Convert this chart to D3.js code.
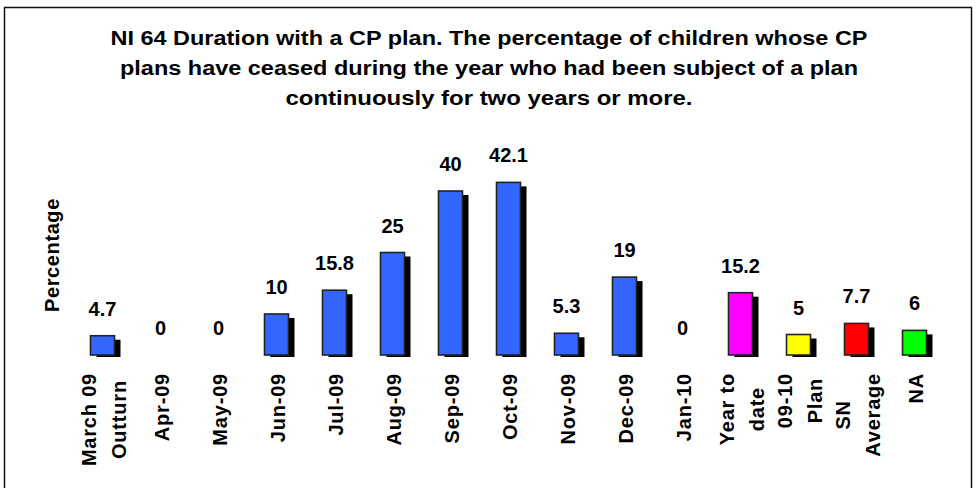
<!DOCTYPE html>
<html>
<head>
<meta charset="utf-8">
<script src="https://cdn.jsdelivr.net/npm/d3@7"></script>
<style>
  html, body { margin: 0; padding: 0; background: #fff; }
  svg { display: block; }
  text { font-family: "Liberation Sans", Arial, sans-serif; font-weight: bold; fill: #000; }
</style>
</head>
<body>
<svg id="chart" width="977" height="488"></svg>
<script>
// ---- data ----
const categories = ["March 09|Outturn", "Apr-09", "May-09", "Jun-09", "Jul-09", "Aug-09", "Sep-09",
  "Oct-09", "Nov-09", "Dec-09", "Jan-10", "Year to|date", "09-10|Plan", "SN|Average", "NA"];
const values = [4.7, 0, 0, 10, 15.8, 25, 40, 42.1, 5.3, 19, 0, 15.2, 5, 7.7, 6];
const valueLabels = ["4.7", "0", "0", "10", "15.8", "25", "40", "42.1", "5.3", "19", "0", "15.2", "5", "7.7", "6"];
const barColors = ["#3366FF", "#3366FF", "#3366FF", "#3366FF", "#3366FF", "#3366FF", "#3366FF",
  "#3366FF", "#3366FF", "#3366FF", "#3366FF", "#FF00FF", "#FFFF00", "#FF0000", "#00FF00"];
const titleLines = [
  "NI 64 Duration with a CP plan. The percentage of children whose CP",
  "plans have ceased during the year who had been subject of a plan",
  "continuously for two years or more."
];
const yAxisTitle = "Percentage";

// ---- layout ----
const svg = d3.select("#chart");

// outer frame
svg.append("rect").attr("x", 4.5).attr("y", 7.5).attr("width", 967).attr("height", 495)
  .attr("fill", "#fff").attr("stroke", "#111").attr("stroke-width", 1.5);

// title
const titleWidths = [757, 738, 407];
const titleY = [45, 75, 105];
svg.append("g").selectAll("text").data(titleLines).join("text")
  .attr("x", 489).attr("y", (d, i) => titleY[i])
  .attr("text-anchor", "middle")
  .attr("font-size", 20)
  .attr("textLength", (d, i) => titleWidths[i])
  .attr("lengthAdjust", "spacingAndGlyphs")
  .text(d => d);

// scales
const x = d3.scalePoint().domain(d3.range(categories.length)).range([73.5, 943.5]).padding(0.5);
const y = d3.scaleLinear().domain([0, 50]).range([355, 150]);
const bw = 24;

// y axis title
svg.append("text")
  .attr("transform", "translate(59,255) rotate(-90)")
  .attr("text-anchor", "middle")
  .attr("font-size", 20)
  .attr("letter-spacing", 0.6)
  .text(yAxisTitle);

const bars = svg.append("g");
const data = values.map((v, i) => ({ v, i }));

// shadows
bars.selectAll("rect.shadow").data(data.filter(d => d.v > 0)).join("rect")
  .attr("class", "shadow")
  .attr("x", d => x(d.i) - bw / 2 + 6)
  .attr("y", d => y(d.v) + 4)
  .attr("width", bw)
  .attr("height", d => y(0) - y(d.v) - 2)
  .attr("fill", "#000");

// bars
bars.selectAll("rect.bar").data(data.filter(d => d.v > 0)).join("rect")
  .attr("class", "bar")
  .attr("x", d => x(d.i) - bw / 2)
  .attr("y", d => y(d.v))
  .attr("width", bw)
  .attr("height", d => y(0) - y(d.v))
  .attr("fill", d => barColors[d.i])
  .attr("stroke", "#222")
  .attr("stroke-width", 1.6);

// value labels
svg.append("g").selectAll("text").data(data).join("text")
  .attr("x", d => x(d.i))
  .attr("y", d => y(d.v) - 20)
  .attr("text-anchor", "middle")
  .attr("font-size", 20)
  .text(d => valueLabels[d.i]);

// category labels (rotated)
const labTop = 373;
const lg = svg.append("g");
categories.forEach((c, i) => {
  const lines = c.split("|");
  const tmp = lg.append("g");
  const nodes = lines.map(l => tmp.append("text").attr("font-size", 20).attr("letter-spacing", 0.8).text(l));
  const widths = nodes.map(n => n.node().getComputedTextLength());
  const maxW = d3.max(widths);
  const cy = labTop + maxW / 2;
  const offs = lines.length === 1 ? [0] : [-15, 15];
  nodes.forEach((n, k) => {
    n.attr("text-anchor", "middle")
     .attr("transform", `translate(${x(i) + offs[k] + 8},${cy}) rotate(-90)`);
  });
});
</script>
</body>
</html>
